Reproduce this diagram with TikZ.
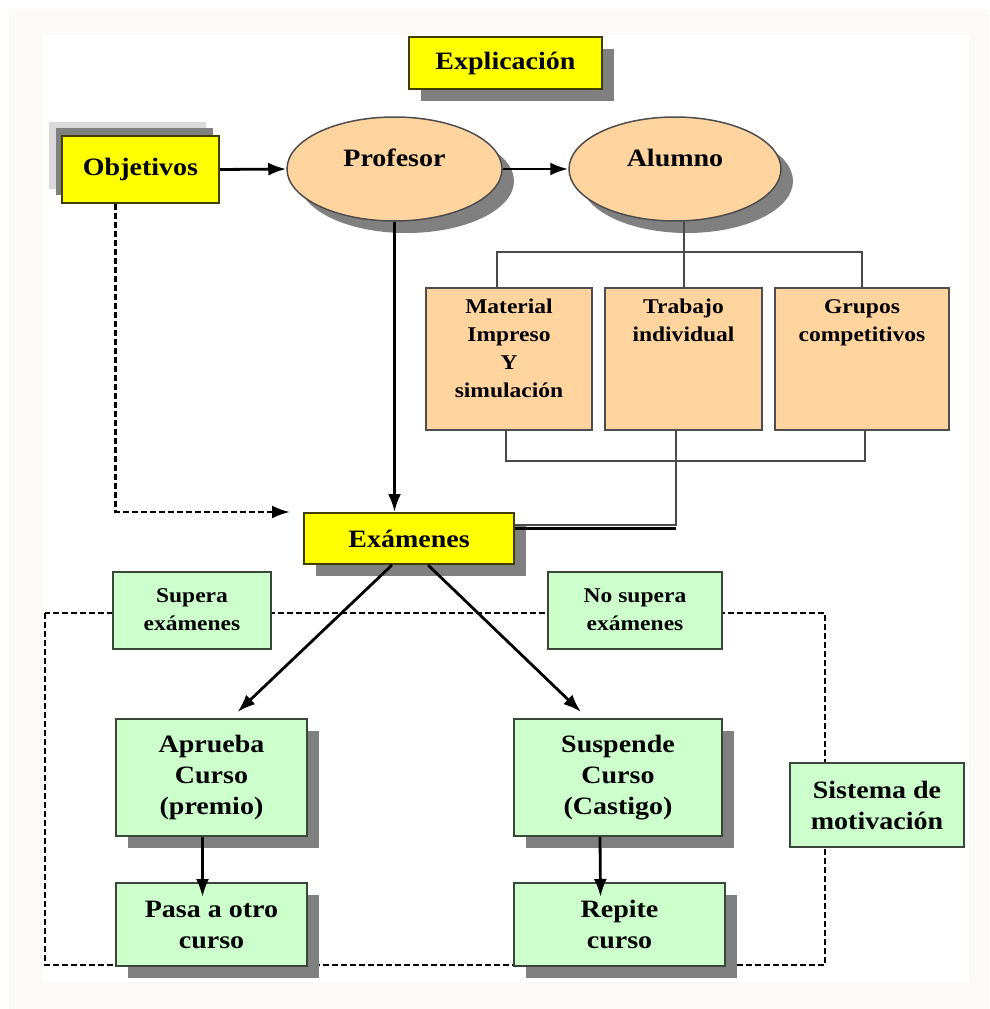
\documentclass[tikz,border=0pt]{standalone}
\usepackage{fontspec}
\setmainfont{Liberation Serif}
\newfontfamily\diagfont[FakeStretch=1.12]{Liberation Serif}
\usetikzlibrary{shapes,arrows.meta,positioning,calc,shadows}

\definecolor{boxyellow}{HTML}{FFFF00}
\definecolor{yellowedge}{HTML}{3F3F00}
\definecolor{boxpeach}{HTML}{FFD49F}
\definecolor{peachedge}{HTML}{4D4D4D}
\definecolor{boxgreen}{HTML}{CCFFCC}
\definecolor{greenedge}{HTML}{3A463A}
\definecolor{shadowgray}{HTML}{808080}
\definecolor{halogray}{HTML}{DADADA}
\definecolor{offwhite}{HTML}{FBFAF8}
\definecolor{treegray}{HTML}{4A4A4A}

\newcommand\bigtxt{\diagfont\bfseries\fontsize{25}{31}\selectfont}
\newcommand\smalltxt{\diagfont\bfseries\fontsize{21}{28}\selectfont}

\begin{document}
\begin{tikzpicture}[x=1pt,y=-1pt,
  >={Latex[length=18pt,width=13pt]},
  raised/.style={drop shadow={shadow xshift=12pt,shadow yshift=-12pt,fill=shadowgray,opacity=1}},
  yellowbox/.style={draw=yellowedge,fill=boxyellow,line width=2pt,font=\bigtxt},
  peachoval/.style={ellipse,draw=peachedge,fill=boxpeach,line width=1.5pt,font=\bigtxt,
    text height=18pt,text depth=23pt,raised},
  peachbox/.style={draw=peachedge,fill=boxpeach,line width=2.5pt},
  greenbox/.style={draw=greenedge,fill=boxgreen,line width=2pt,align=center,font=\bigtxt},
  labelbox/.style={greenbox,font=\smalltxt},
  solidarrow/.style={->,line width=2.8pt},
  dashedarrow/.style={->,line width=2.4pt,dash pattern=on 6pt off 3pt},
  treeline/.style={draw=treegray,line width=2pt}]

\useasboundingbox (0,0) rectangle (989,1009);

% Page background
\fill[offwhite] (9,9) rectangle (989,1009);
\fill[white] (43,35) rectangle (969,982);

% Motivation frame
\draw[line width=2.4pt,dash pattern=on 6pt off 3pt] (45,613) rectangle (825,965);

% Top row
\node[yellowbox,raised,minimum width=193pt,minimum height=52pt] (explicacion) at (505.5,63) {Explicación};
\node[yellowbox,minimum width=157pt,minimum height=67pt,
  drop shadow={shadow xshift=-13pt,shadow yshift=14pt,fill=halogray,opacity=1},
  drop shadow={shadow xshift=-6pt,shadow yshift=8pt,fill=shadowgray,opacity=1}] (objetivos) at (140.5,169.5) {Objetivos};
\node[peachoval,minimum width=215pt,minimum height=104pt] (profesor) at (394.5,169) {Profesor};
\node[peachoval,minimum width=212pt,minimum height=104pt] (alumno) at (675,169) {Alumno};

\draw[solidarrow] (objetivos.east) -- (profesor.west);
\draw[solidarrow] (profesor.east) -- (alumno.west);

% Student activities
\node[peachbox,minimum width=166pt,minimum height=142pt] (material) at (509,359) {};
\node[peachbox,minimum width=157pt,minimum height=142pt] (trabajo) at (683.5,359) {};
\node[peachbox,minimum width=174pt,minimum height=142pt] (grupos) at (862,359) {};
\node[font=\smalltxt,align=center,anchor=north] (materialtxt) at ([yshift=-9pt]material.north) {Material\\Impreso\\Y\\simulación};
\node[font=\smalltxt,align=center,anchor=north] (trabajotxt) at ([yshift=-9pt]trabajo.north) {Trabajo\\individual};
\node[font=\smalltxt,align=center,anchor=north] (grupostxt) at ([yshift=-9pt]grupos.north) {Grupos\\competitivos};

\draw[treeline] (trabajo.north) -- (trabajo.north |- alumno.south);
\draw[treeline] ([xshift=-12pt]material.north) -- ++(0,-35) -| (grupos.north);
\draw[treeline] ([xshift=-3pt]material.south) -- ++(0,30) -| ([xshift=3pt]grupos.south);

% Exams
\node[yellowbox,raised,minimum width=210pt,minimum height=51pt] (examenes) at (409,538.5) {Exámenes};
\coordinate (dashtip) at (290,512);

\draw[solidarrow] (profesor.south) -- (profesor.south |- examenes.north);
\draw[dashedarrow] ([xshift=-25pt]objetivos.south) |- (dashtip);
\draw[treeline] ([xshift=-8pt]trabajo.south) |- ([yshift=-13pt]examenes.north east);
\draw[line width=3pt] ([yshift=-16pt]examenes.north east) -- ++(161,0);

% Results
\node[labelbox,minimum width=158pt,minimum height=77pt] (supera) at (192,610) {Supera\\exámenes};
\node[labelbox,minimum width=174pt,minimum height=77pt] (nosupera) at (635,610) {No supera\\exámenes};

\node[greenbox,raised,minimum width=191pt,minimum height=117pt] (aprueba) at (211.5,777.5) {Aprueba\\Curso\\(premio)};
\node[greenbox,raised,minimum width=208pt,minimum height=117pt] (suspende) at (618,777.5) {Suspende\\Curso\\(Castigo)};
\node[greenbox,raised,minimum width=191pt,minimum height=83pt] (pasa) at (211.5,924.5) {Pasa a otro\\curso};
\node[greenbox,raised,minimum width=211pt,minimum height=83pt] (repite) at (619.5,924.5) {Repite\\curso};
\node[greenbox,minimum width=174pt,minimum height=84pt] (sistema) at (877,805) {Sistema de\\motivación};

\draw[solidarrow] ([xshift=-17pt]examenes.south) -- ([xshift=26pt,yshift=6pt]aprueba.north);
\draw[solidarrow] ([xshift=19pt]examenes.south) -- ([xshift=-37pt,yshift=6pt]suspende.north);
\draw[solidarrow] ([xshift=-9pt]aprueba.south) -- ([xshift=-9pt,yshift=-15pt]pasa.north);
\draw[solidarrow] ([xshift=-18pt]suspende.south) -- ([xshift=-19pt,yshift=-15pt]repite.north);

\end{tikzpicture}
\end{document}
